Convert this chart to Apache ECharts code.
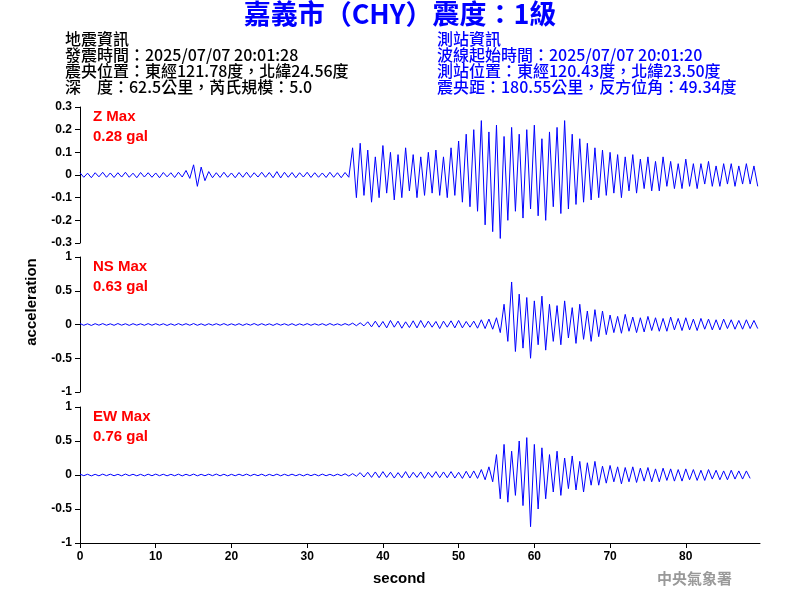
<!DOCTYPE html>
<html><head><meta charset="utf-8">
<script src="https://cdn.jsdelivr.net/npm/echarts@6/dist/echarts.min.js"></script>
<style>body{margin:0;background:#fff}#c{width:800px;height:600px}</style></head>
<body><div id="c"></div>
<script>
const sampleStep = 0.5; // seconds per sample
const zSeg1=[0.01,-0.01,0.008,-0.012,0.01,-0.008,0.012,-0.01,0.009,-0.011,0.01,-0.009,0.012,-0.01,0.008,-0.012,0.011,-0.009,0.01,-0.01,0.009,-0.012,0.011,-0.008,0.01,-0.011,0.012,-0.009,0.02,-0.015];
const zSeg2=[0.045,-0.05,0.035,-0.025];
const zSeg3=[0.015,-0.012,0.01,-0.011,0.012,-0.01,0.009,-0.012,0.011,-0.01,0.012,-0.011,0.01,-0.009,0.012,-0.01,0.011,-0.012,0.015,-0.013,0.012,-0.01,0.011,-0.012,0.01,-0.009,0.012,-0.011,0.01,-0.01,0.009,-0.011,0.012,-0.01,0.01,-0.012,0.011,-0.01];
const zSeg4=[0.12,-0.1,0.14,-0.09,0.11,-0.12,0.08,-0.1,0.13,-0.08,0.1,-0.11,0.09,-0.1,0.12,-0.07,0.09,-0.1,0.08,-0.09,0.1,-0.08,0.11,-0.09,0.08,-0.1,0.12,-0.09];
const zSeg5=[0.15,-0.12,0.18,-0.14,0.2,-0.16,0.24,-0.22,0.19,-0.25,0.22,-0.28,0.17,-0.2,0.21,-0.16,0.18,-0.19,0.2,-0.15,0.22,-0.18,0.16,-0.2,0.19,-0.14,0.21,-0.17,0.24,-0.15,0.18,-0.13,0.16,-0.12,0.14,-0.11];
const zSeg6=[0.12,-0.1,0.11,-0.09,0.1,-0.08,0.09,-0.1,0.08,-0.07,0.09,-0.08,0.07,-0.06,0.08,-0.07,0.06,-0.07,0.08,-0.05,0.06,-0.06,0.05,-0.06,0.07,-0.05,0.05,-0.06,0.05,-0.04,0.06,-0.05,0.04,-0.05,0.05,-0.04,0.05,-0.05,0.04,-0.04,0.05,-0.04,0.04,-0.05];

const nsSeg1=[0.015,-0.012,0.01,-0.014,0.012,-0.01,0.013,-0.011,0.01,-0.012,0.014,-0.01,0.011,-0.013,0.012,-0.01,0.01,-0.012,0.013,-0.011,0.012,-0.01,0.011,-0.014,0.01,-0.012,0.013,-0.01,0.012,-0.011,0.014,-0.012,0.01,-0.013,0.011,-0.01,0.012,-0.011,0.013,-0.012,0.01,-0.011,0.012,-0.013,0.011,-0.01,0.014,-0.012,0.012,-0.011,0.01,-0.013,0.013,-0.01,0.011,-0.012,0.012,-0.014,0.01,-0.011,0.013,-0.012,0.011,-0.01,0.012,-0.013,0.014,-0.011,0.01,-0.012,0.013,-0.01,0.02,-0.018,0.025,-0.02];
const nsSeg2=[0.04,-0.035,0.05,-0.04,0.045,-0.05,0.06,-0.04,0.05,-0.055,0.04,-0.045,0.055,-0.05,0.06,-0.045,0.05,-0.04,0.045,-0.06,0.05,-0.04,0.055,-0.05,0.06,-0.05,0.045,-0.04,0.05,-0.055,0.07,-0.06,0.08,-0.07,0.1,-0.12];
const nsSeg3=[0.3,-0.25,0.63,-0.4,0.45,-0.35,0.4,-0.5,0.35,-0.3,0.42,-0.38];
const nsSeg4=[0.3,-0.25,0.28,-0.3,0.35,-0.2,0.25,-0.28,0.3,-0.22,0.2,-0.25,0.22,-0.18,0.2,-0.15];
const nsSeg5=[0.14,-0.12,0.12,-0.13,0.15,-0.1,0.11,-0.12,0.1,-0.11,0.12,-0.09,0.1,-0.1,0.09,-0.1,0.11,-0.08,0.09,-0.09,0.1,-0.08,0.08,-0.09,0.09,-0.07,0.08,-0.08,0.07,-0.08,0.08,-0.06,0.07,-0.07,0.06,-0.07,0.07,-0.06,0.06,-0.06];

const ewSeg1=[0.012,-0.01,0.011,-0.013,0.01,-0.012,0.013,-0.01,0.012,-0.011,0.01,-0.012,0.014,-0.01,0.011,-0.012,0.01,-0.013,0.012,-0.011,0.013,-0.01,0.011,-0.012,0.01,-0.011,0.012,-0.013,0.011,-0.01,0.013,-0.012,0.01,-0.011,0.012,-0.01,0.014,-0.012,0.011,-0.013,0.01,-0.011,0.012,-0.01,0.013,-0.012,0.011,-0.01,0.012,-0.013,0.01,-0.011,0.013,-0.012,0.011,-0.01,0.012,-0.011,0.01,-0.013,0.012,-0.01,0.011,-0.012,0.013,-0.011,0.01,-0.012,0.012,-0.01,0.018,-0.016,0.02,-0.018];
const ewSeg2=[0.035,-0.03,0.04,-0.035,0.045,-0.04,0.05,-0.035,0.04,-0.045,0.035,-0.04,0.05,-0.045,0.04,-0.035,0.045,-0.05,0.04,-0.035,0.05,-0.04,0.045,-0.04,0.05,-0.045,0.04,-0.05,0.055,-0.045,0.06,-0.05,0.08,-0.07,0.12,-0.1];
const ewSeg3=[0.3,-0.35,0.45,-0.4,0.35,-0.3,0.5,-0.45,0.55,-0.76,0.45,-0.5,0.4,-0.35];
const ewSeg4=[0.3,-0.25,0.35,-0.3,0.25,-0.2,0.28,-0.22,0.2,-0.25,0.18,-0.15,0.2,-0.15];
const ewSeg5=[0.13,-0.12,0.14,-0.1,0.12,-0.13,0.11,-0.1,0.12,-0.11,0.1,-0.09,0.11,-0.1,0.09,-0.1,0.1,-0.08,0.09,-0.09,0.08,-0.09,0.09,-0.07,0.08,-0.08,0.07,-0.08,0.08,-0.06,0.07,-0.07,0.06,-0.07,0.07,-0.06,0.06,-0.06,0.06,-0.05];

const zValues=[].concat(zSeg1,zSeg2,zSeg3,zSeg4,zSeg5,zSeg6);
const nsValues=[].concat(nsSeg1,nsSeg2,nsSeg3,nsSeg4,nsSeg5);
const ewValues=[].concat(ewSeg1,ewSeg2,ewSeg3,ewSeg4,ewSeg5);
const zTicks=[-0.3,-0.2,-0.1,0,0.1,0.2,0.3];
const hTicks=[-1,-0.5,0,0.5,1];

const toPairs=v=>v.map((y,i)=>[i*sampleStep,y]);
const F='"Liberation Sans", Arial, sans-serif';
const CJK='"Noto Sans CJK TC", sans-serif';
const grids=[{left:80,right:40,top:107,height:136},{left:80,right:40,top:257,height:135},{left:80,right:40,top:407,height:136}];
const xAxes=grids.map((g,i)=>({type:'value',gridIndex:i,min:0,max:89.8,interval:10,show:i===2,
 axisLine:{onZero:false,lineStyle:{color:'#000'}},axisTick:{length:5,lineStyle:{color:'#000'}},splitLine:{show:false},
 axisLabel:{color:'#000',fontFamily:F,fontSize:12,fontWeight:'bold',showMaxLabel:false}}));
const yAxes=grids.map((g,i)=>({type:'value',gridIndex:i,min:i===0?zTicks[0]:hTicks[0],max:i===0?zTicks[6]:hTicks[4],interval:i===0?0.1:0.5,
 axisLine:{show:true,lineStyle:{color:'#000'}},axisTick:{show:true,length:5,lineStyle:{color:'#000'}},splitLine:{show:false},
 axisLabel:{color:'#000',fontFamily:F,fontSize:12,fontWeight:'bold',formatter:v=>String(Math.round(v*10)/10)}}));
const mk=(d,i)=>({type:'line',xAxisIndex:i,yAxisIndex:i,data:toPairs(d),showSymbol:false,animation:false,lineStyle:{color:'#0000ff',width:1}});
const t=(x,y,s,st)=>({type:'text',left:x,top:y,style:Object.assign({text:s,fill:'#000',font:'500 16px '+CJK},st||{})});
const red=(x,y,s)=>t(x,y,s,{fill:'#ff0000',font:'bold 15px '+F});
const chart=echarts.init(document.getElementById('c'));
chart.setOption({animation:false,grid:grids,xAxis:xAxes,yAxis:yAxes,series:[mk(zValues,0),mk(nsValues,1),mk(ewValues,2)],
graphic:[
 {type:'text',left:'center',top:0,style:{text:'嘉義市（CHY）震度：1級',fill:'#0000ff',font:'bold 27px '+CJK}},
 t(65,31,'地震資訊'),t(65,47,'發震時間：2025/07/07 20:01:28'),t(65,63,'震央位置：東經121.78度，北緯24.56度'),t(65,79,'深　度：62.5公里，芮氏規模：5.0'),
 t(437,31,'測站資訊',{fill:'#0000ff'}),t(437,47,'波線起始時間：2025/07/07 20:01:20',{fill:'#0000ff'}),t(437,63,'測站位置：東經120.43度，北緯23.50度',{fill:'#0000ff'}),t(437,79,'震央距：180.55公里，反方位角：49.34度',{fill:'#0000ff'}),
 red(93,109,'Z Max'),red(93,129,'0.28 gal'),red(93,259,'NS Max'),red(93,279,'0.63 gal'),red(93,409,'EW Max'),red(93,429,'0.76 gal'),
 {type:'text',x:32,y:302,rotation:Math.PI/2,style:{text:'acceleration',fill:'#000',font:'bold 15px '+F,align:'center',verticalAlign:'middle'}},
 {type:'text',left:373,top:571,style:{text:'second',fill:'#000',font:'bold 15px '+F}},
 {type:'text',left:657,top:571,style:{text:'中央氣象署',fill:'#999',font:'bold 15px '+CJK}}
]});
</script></body></html>
